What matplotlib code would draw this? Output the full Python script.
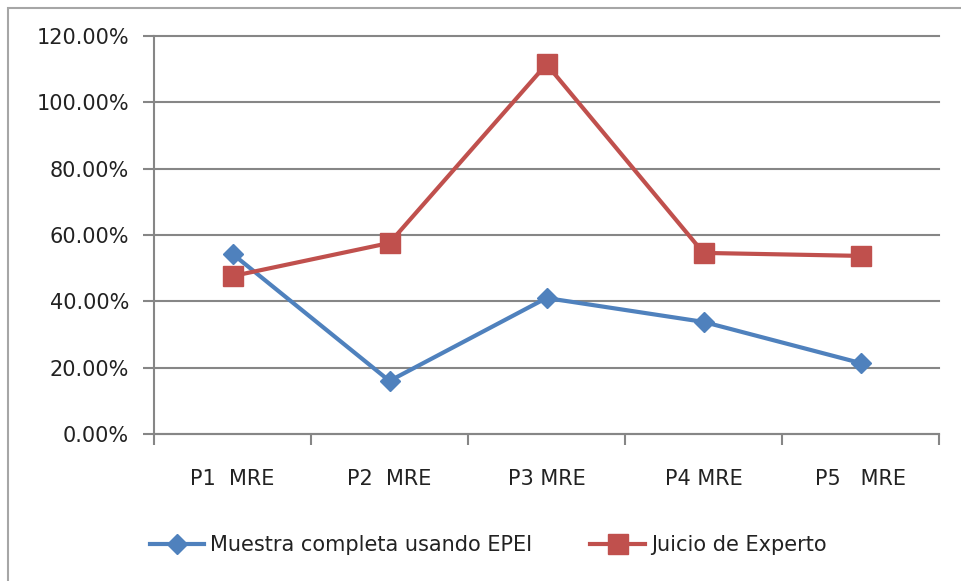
import matplotlib
matplotlib.use("Agg")
import matplotlib.pyplot as plt
from matplotlib.patches import Rectangle
from matplotlib.ticker import FuncFormatter, MultipleLocator

categories = ["P1  MRE", "P2  MRE", "P3 MRE", "P4 MRE", "P5   MRE"]
series_names = ["Muestra completa usando EPEI", "Juicio de Experto"]
epei = [54.3, 16.0, 41.0, 33.8, 21.4]
experto = [47.6, 57.6, 111.5, 54.6, 53.7]

W, H = 961, 581
fig = plt.figure(figsize=(W / 100, H / 100), dpi=100)
plt.rcParams['font.family'] = ['DejaVu Sans']

# outer chart border (cropped at right and bottom)
fig.patches.append(Rectangle((8 / W, -0.1), 1.2, 1 - 8 / H + 0.1,
                             transform=fig.transFigure, fill=False,
                             edgecolor="#a6a6a6", linewidth=1.5))

ax = fig.add_axes([154 / W, 1 - 434 / H, (939 - 154) / W, (434 - 36) / H])
x = [i + 0.5 for i in range(len(categories))]

blue = "#4F81BD"
red = "#C0504D"
ax.plot(x, epei, color=blue, linewidth=3, marker="D", markersize=10,
        label=series_names[0], zorder=3)
ax.plot(x, experto, color=red, linewidth=3, marker="s", markersize=14,
        label=series_names[1], zorder=4)

FS = 15
ax.set_xlim(0, len(categories))
ax.set_ylim(0, 120)
ax.yaxis.set_major_locator(MultipleLocator(20))
ax.yaxis.set_major_formatter(FuncFormatter(lambda v, p: f"{v:.2f}%"))
ax.set_xticks(range(len(categories) + 1))
ax.set_xticklabels([])
ax.set_xticks(x, minor=True)
ax.set_xticklabels(categories, minor=True)
ax.tick_params(axis="x", which="minor", length=0, pad=25, labelsize=FS,
               labelcolor="#222222")
ax.tick_params(axis="x", which="major", length=8, width=1.5, color="#868686",
               direction="out")
ax.tick_params(axis="y", length=8, width=1.5, color="#868686", pad=10,
               labelsize=FS, labelcolor="#222222")

ax.grid(axis="y", color="#868686", linewidth=1.5)
for gl in ax.get_ygridlines():
    gl.set_clip_on(False)
ax.set_axisbelow(True)
for s in ["top", "right"]:
    ax.spines[s].set_visible(False)
for s in ["left", "bottom"]:
    ax.spines[s].set_color("#868686")
    ax.spines[s].set_linewidth(1.5)

leg = fig.legend(loc="center", bbox_to_anchor=(488 / W, 1 - 545 / H), ncol=2,
                 frameon=False, fontsize=FS, handlelength=2.6,
                 handletextpad=0.3, columnspacing=2.8)
for t in leg.get_texts():
    t.set_color("#222222")

fig.savefig("out.png", dpi=100)
